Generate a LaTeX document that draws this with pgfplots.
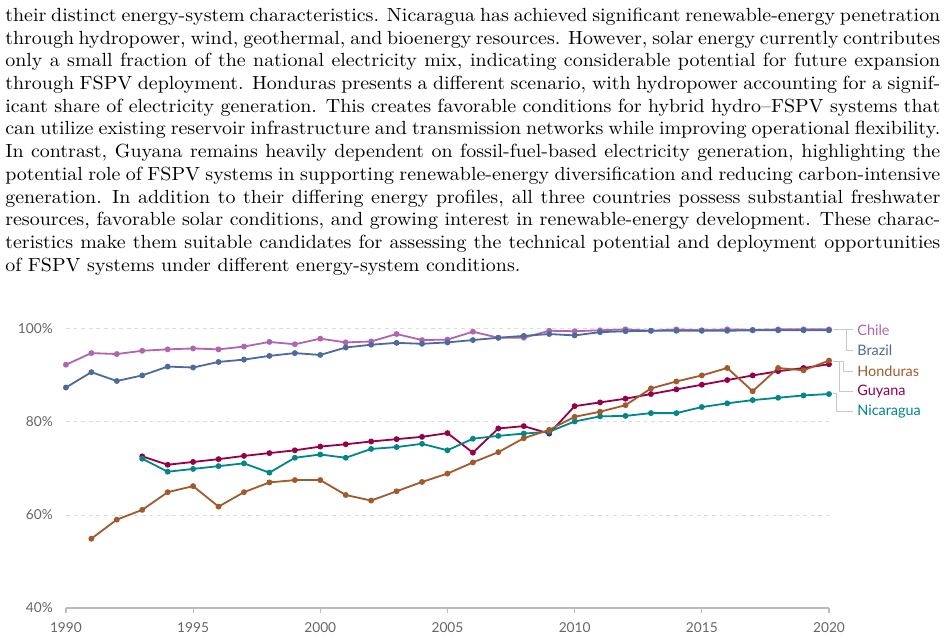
\documentclass[border=0pt]{standalone}
\usepackage{fontspec}
\usepackage{pgfplots}
\usepackage{pgfplotstable}
\pgfplotsset{compat=1.18}
\newfontfamily\lato{Lato}
\newfontfamily\bodyfont{lmroman10-regular}[Extension=.otf, Ligatures=TeX, FakeStretch=1.05]

\definecolor{cChile}{HTML}{B065B0}
\definecolor{cBrazil}{HTML}{4C6A9C}
\definecolor{cHonduras}{HTML}{A25A2B}
\definecolor{cGuyana}{HTML}{970046}
\definecolor{cNicaragua}{HTML}{00878A}
\definecolor{tickgray}{HTML}{666666}
\definecolor{gridgray}{HTML}{DDDDDD}
\definecolor{axisgray}{HTML}{BBBBBB}
\definecolor{linkgray}{HTML}{C8C8C8}

% Share of electricity from low-carbon sources (%)
\pgfplotstableread{
year Chile Brazil
1990 92.3 87.4
1991 94.8 90.7
1992 94.6 88.8
1993 95.3 90.0
1994 95.6 91.9
1995 95.8 91.7
1996 95.6 92.9
1997 96.2 93.4
1998 97.2 94.2
1999 96.7 94.8
2000 97.9 94.4
2001 97.1 96.0
2002 97.3 96.6
2003 98.9 97.0
2004 97.6 96.8
2005 97.7 97.1
2006 99.4 97.6
2007 98.1 98.1
2008 98.1 98.5
2009 99.6 98.9
2010 99.5 98.6
2011 99.7 99.3
2012 99.9 99.5
2013 99.6 99.6
2014 99.9 99.6
2015 99.7 99.6
2016 99.9 99.6
2017 99.8 99.7
2018 99.9 99.7
2019 99.9 99.7
2020 99.9 99.7
}\tblA

\pgfplotstableread{
year Guyana Nicaragua
1993 72.6 72.1
1994 70.8 69.3
1995 71.4 69.9
1996 72.0 70.5
1997 72.7 71.1
1998 73.3 69.1
1999 73.9 72.3
2000 74.7 73.0
2001 75.2 72.3
2002 75.8 74.2
2003 76.3 74.6
2004 76.8 75.3
2005 77.6 73.9
2006 73.4 76.4
2007 78.6 77.0
2008 79.1 77.5
2009 77.5 77.9
2010 83.4 80.1
2011 84.2 81.2
2012 85.0 81.3
2013 86.0 81.9
2014 87.0 81.9
2015 88.0 83.2
2016 89.0 84.0
2017 90.0 84.7
2018 90.9 85.2
2019 91.6 85.7
2020 92.4 86.0
}\tblB

\pgfplotstableread{
year Honduras
1991 54.9
1992 59.0
1993 61.1
1994 64.9
1995 66.2
1996 61.8
1997 64.9
1998 67.0
1999 67.5
2000 67.5
2001 64.3
2002 63.1
2003 65.1
2004 67.1
2005 68.9
2006 71.3
2007 73.5
2008 76.5
2009 78.3
2010 81.1
2011 82.2
2012 83.6
2013 87.2
2014 88.7
2015 90.0
2016 91.6
2017 86.6
2018 91.6
2019 91.1
2020 93.2
}\tblC

% one justified line of body text
\newcommand\jline[1]{\hbox to 492.1pt{#1}}

\begin{document}
\begin{tikzpicture}
\path[use as bounding box] (0,0) rectangle (498.4pt,334.2pt);

% body text above the chart
\node[anchor=north west, inner sep=0pt, text width=492.1pt,
      font=\bodyfont\fontsize{10}{11.95}\selectfont] at (2.6pt,330.2pt) {%
\spaceskip=3.45pt plus 2.5pt minus 1.3pt
\xspaceskip=4.7pt plus 3pt minus 0.8pt
\jline{their distinct energy-system characteristics. Nicaragua has achieved significant renewable-energy penetration}
\jline{through hydropower, wind, geothermal, and bioenergy resources. However, solar energy currently contributes}
\jline{only a small fraction of the national electricity mix, indicating considerable potential for future expansion}
\jline{through FSPV deployment. Honduras presents a different scenario, with hydropower accounting for a signif-}
\jline{icant share of electricity generation. This creates favorable conditions for hybrid hydro--FSPV systems that}
\jline{can utilize existing reservoir infrastructure and transmission networks while improving operational flexibility.}
\jline{In contrast, Guyana remains heavily dependent on fossil-fuel-based electricity generation, highlighting the}
\jline{potential role of FSPV systems in supporting renewable-energy diversification and reducing carbon-intensive}
\jline{generation. In addition to their differing energy profiles, all three countries possess substantial freshwater}
\jline{resources, favorable solar conditions, and growing interest in renewable-energy development. These charac-}
\jline{teristics make them suitable candidates for assessing the technical potential and deployment opportunities}
\hbox{of FSPV systems under different energy-system conditions.}%
};

\begin{axis}[
  at={(34.7pt,14.2pt)}, anchor=south west,
  scale only axis, width=401.6pt, height=146.9pt,
  xmin=1990, xmax=2020, ymin=40, ymax=100,
  clip=false,
  axis x line*=bottom, axis y line*=left,
  x axis line style={axisgray, line width=0.6pt, -},
  y axis line style={draw=none},
  xtick={1990,1995,...,2020},
  ytick={40,60,80,100},
  tick align=outside,
  major tick length=2.8pt,
  xtick style={axisgray, line width=0.6pt},
  ytick style={draw=none},
  /pgf/number format/1000 sep={},
  /pgf/number format/assume math mode=true,
  ticklabel style={font=\lato\fontsize{7.2}{8}\selectfont, text=tickgray},
  xticklabel style={yshift=-1.2pt},
  yticklabel={\pgfmathprintnumber{\tick}\%},
  yticklabel style={xshift=-0.6pt},
  ymajorgrids,
  grid style={gridgray, line width=0.5pt, dash pattern=on 2pt off 2pt},
  every axis plot/.append style={line width=0.95pt, mark=*, mark size=1.05pt},
]
\addplot[cChile, mark options={fill=cChile}] table[x=year, y=Chile] {\tblA};
\addplot[cBrazil, mark options={fill=cBrazil}] table[x=year, y=Brazil] {\tblA};
\addplot[cGuyana, mark options={fill=cGuyana}] table[x=year, y=Guyana] {\tblB};
\addplot[cNicaragua, mark options={fill=cNicaragua}] table[x=year, y=Nicaragua] {\tblB};
\addplot[cHonduras, mark options={fill=cHonduras}] table[x=year, y=Honduras] {\tblC};

% end labels with leader lines
\draw[linkgray, line width=0.6pt]
  (axis cs:2020.17,99.79) -- (axis cs:2020.96,99.79)
  (axis cs:2020.70,99.79) |- (axis cs:2020.96,95.44)
  (axis cs:2020.17,93.0) -- (axis cs:2020.57,93.0) |- (axis cs:2020.96,90.87)
  (axis cs:2020.41,93.0) |- (axis cs:2020.96,86.59)
  (axis cs:2020.17,86.03) -- (axis cs:2020.31,86.03) |- (axis cs:2020.96,82.31);
\begin{scope}[every node/.style={anchor=west, inner sep=0pt, font=\lato\fontsize{7.6}{9}\selectfont}]
\node[text=cChile] at (axis cs:2021.1,99.79) {Chile};
\node[text=cBrazil] at (axis cs:2021.1,95.44) {Brazil};
\node[text=cHonduras] at (axis cs:2021.1,90.87) {Honduras};
\node[text=cGuyana] at (axis cs:2021.1,86.59) {Guyana};
\node[text=cNicaragua] at (axis cs:2021.1,82.31) {Nicaragua};
\end{scope}
\end{axis}
\end{tikzpicture}
\end{document}
